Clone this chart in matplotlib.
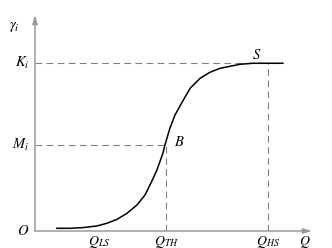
import matplotlib
matplotlib.use("Agg")
import matplotlib.pyplot as plt

plt.rcParams['mathtext.fontset'] = 'stix'
plt.rcParams['font.family'] = 'STIXGeneral'

# curve
q = [0.79, 1.26, 1.73, 2.24, 2.60, 2.96, 3.32, 3.68, 3.97, 4.22, 4.40,
     4.62, 4.69, 4.87, 5.05, 5.31, 5.60, 5.96, 6.32, 6.68, 7.04, 7.40,
     7.87, 8.95]
gamma = [0.016, 0.016, 0.020, 0.030, 0.046, 0.069, 0.105, 0.154, 0.213,
         0.296, 0.361, 0.462, 0.509, 0.609, 0.686, 0.763, 0.846, 0.905,
         0.941, 0.964, 0.976, 0.988, 0.994, 0.994]

K = 0.994
M = 0.509
Q_LS = 2.31
Q_TH = 4.73
Q_HS = 8.41

x_max = 10.0
y_max = 1.28

fig = plt.figure(figsize=(3.32, 2.48), dpi=100)
ax = fig.add_axes([35 / 332, 17 / 248, 277 / 332, 216 / 248])
ax.set_xlim(0, x_max)
ax.set_ylim(0, y_max)
ax.axis('off')

axis_col = '#9a9a9a'
dash_col = '#808080'

# axes with arrows
arrow = dict(arrowstyle='-|>,head_length=0.5,head_width=0.15',
             color=axis_col, lw=1.1, shrinkA=0, shrinkB=0)
ax.annotate('', xy=(x_max, 0), xytext=(0, 0), arrowprops=arrow,
            annotation_clip=False)
ax.annotate('', xy=(0, y_max), xytext=(0, 0), arrowprops=arrow,
            annotation_clip=False)

# dashed guides
ax.plot([0, Q_HS], [K, K], color=dash_col, lw=0.8, dashes=(6, 4))
ax.plot([Q_HS, Q_HS], [0, K], color=dash_col, lw=0.8, dashes=(6, 4))
ax.plot([0, Q_TH], [M, M], color=dash_col, lw=0.8, dashes=(6, 4))
ax.plot([Q_TH, Q_TH], [0, M], color=dash_col, lw=0.8, dashes=(6, 4))

ax.plot(q, gamma, color='black', lw=1.1, solid_joinstyle='round')

fs = 10.5
ax.text(-0.55, y_max - 0.07, r'$\gamma_i$', fontsize=fs, ha='right', va='center')
ax.text(-0.2, K, r'$K_i$', fontsize=fs, ha='right', va='center')
ax.text(-0.2, M, r'$M_i$', fontsize=fs, ha='right', va='center')
ax.text(-0.2, 0.0, r'$O$', fontsize=fs, ha='right', va='center')
ax.text(Q_TH + 0.3, M + 0.02, r'$B$', fontsize=fs, ha='left', va='center')
ax.text(8.0, K + 0.05, r'$S$', fontsize=fs, ha='center', va='center')

for pos, lab in [(Q_LS, r'$Q_{LS}$'), (Q_TH, r'$Q_{TH}$'), (Q_HS, r'$Q_{HS}$'),
                 (9.75, r'$Q$')]:
    ax.text(pos, -0.015, lab, fontsize=10, ha='center', va='top')

fig.savefig('out.png', dpi=100)
